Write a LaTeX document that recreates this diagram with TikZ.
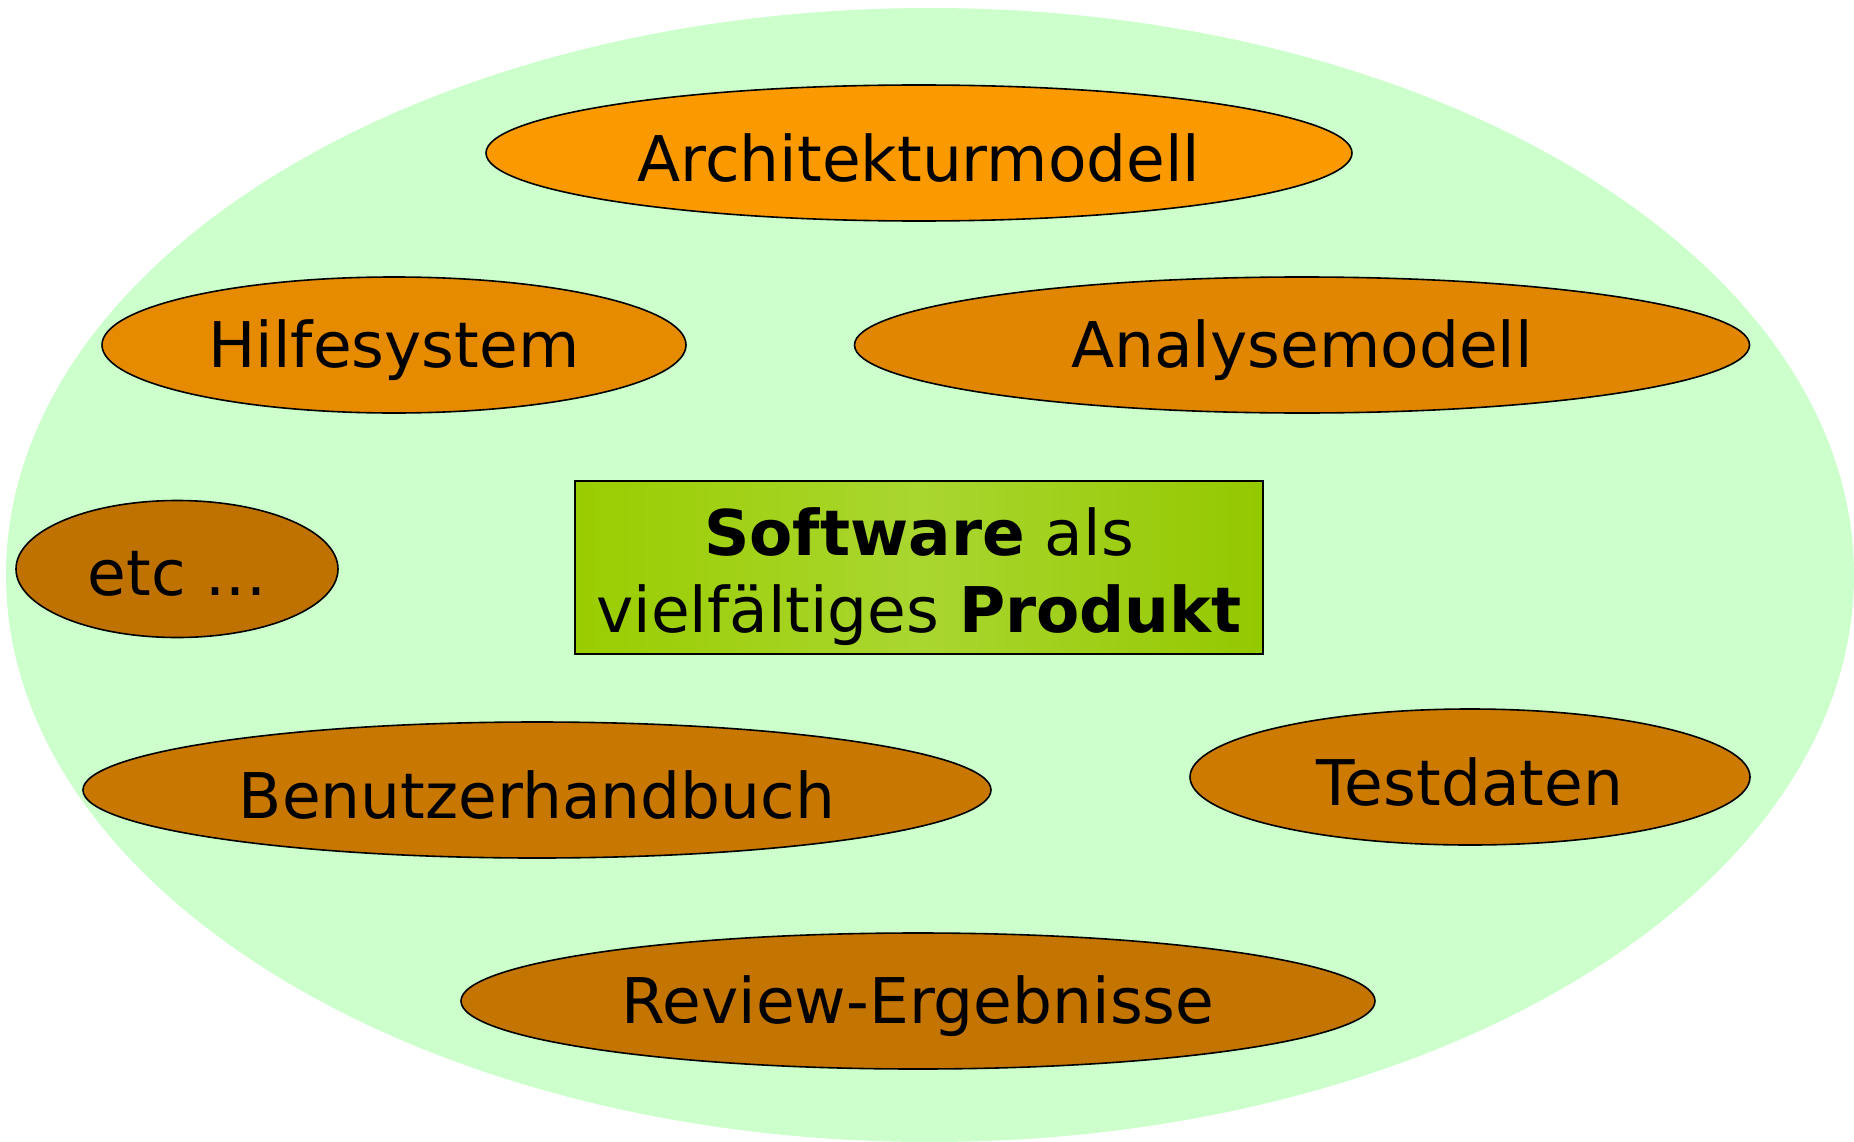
\documentclass[tikz,border=0pt]{standalone}
\usepackage{fontspec}
\setmainfont{DejaVu Sans}
\usetikzlibrary{shapes.geometric}
\definecolor{bggreen}{HTML}{CCFFCC}
\definecolor{oA}{HTML}{FA9A00}
\definecolor{oH}{HTML}{E68A00}
\definecolor{oN}{HTML}{E08600}
\definecolor{oE}{HTML}{C07200}
\definecolor{oB}{HTML}{C87800}
\definecolor{oT}{HTML}{CC7A00}
\definecolor{oR}{HTML}{C47400}
\definecolor{gL}{HTML}{9ACD00}
\definecolor{gM}{HTML}{AAD630}
\definecolor{gR}{HTML}{94C800}
\newcommand{\dn}[1]{\raisebox{-5pt}[\height][\depth]{#1}}
\tikzset{
  blob/.style={ellipse, draw=black, line width=1.6pt, inner sep=0pt,
    font=\fontsize{63}{76}\selectfont},
}
\begin{document}
\begin{tikzpicture}[x=1pt,y=-1pt]
\useasboundingbox (0,0) rectangle (1854,1142);
\begin{scope}
\clip (0,0) rectangle (1854,1142);
\fill[bggreen] (930,575) ellipse [x radius=924, y radius=567];
\end{scope}
\node[blob, fill=oA, minimum width=866pt, minimum height=136pt] (arch) at (919,153) {\dn{Architekturmodell}};
\node[blob, fill=oH, minimum width=584pt, minimum height=136pt] (hilfe) at (394,345) {\dn{Hilfesystem}};
\node[blob, fill=oN, minimum width=895pt, minimum height=136pt] (analyse) at (1302,345) {\dn{Analysemodell}};
\node[blob, fill=oE, minimum width=322pt, minimum height=137pt] (etc) at (177,569) {\dn{etc ...}};
\node[blob, fill=oB, minimum width=908pt, minimum height=136pt] (benutzer) at (537,790) {\dn{Benutzerhandbuch}};
\node[blob, fill=oT, minimum width=560pt, minimum height=136pt] (test) at (1470,777) {\dn{Testdaten}};
\node[blob, fill=oR, minimum width=914pt, minimum height=136pt] (review) at (918,1001) {\dn{Review-Ergebnisse}};
\node[draw=black, line width=1.4pt, left color=gL, right color=gR, middle color=gM,
  minimum width=688pt, minimum height=173pt, inner sep=0pt] (sw) at (919,567.5) {};
\node[align=center, inner sep=0pt, font=\fontsize{63}{77}\selectfont]
  (swtext) at ([yshift=-9pt]sw.center)
  {\textbf{Software} als\\vielfältiges \textbf{Produkt}};
\end{tikzpicture}
\end{document}
